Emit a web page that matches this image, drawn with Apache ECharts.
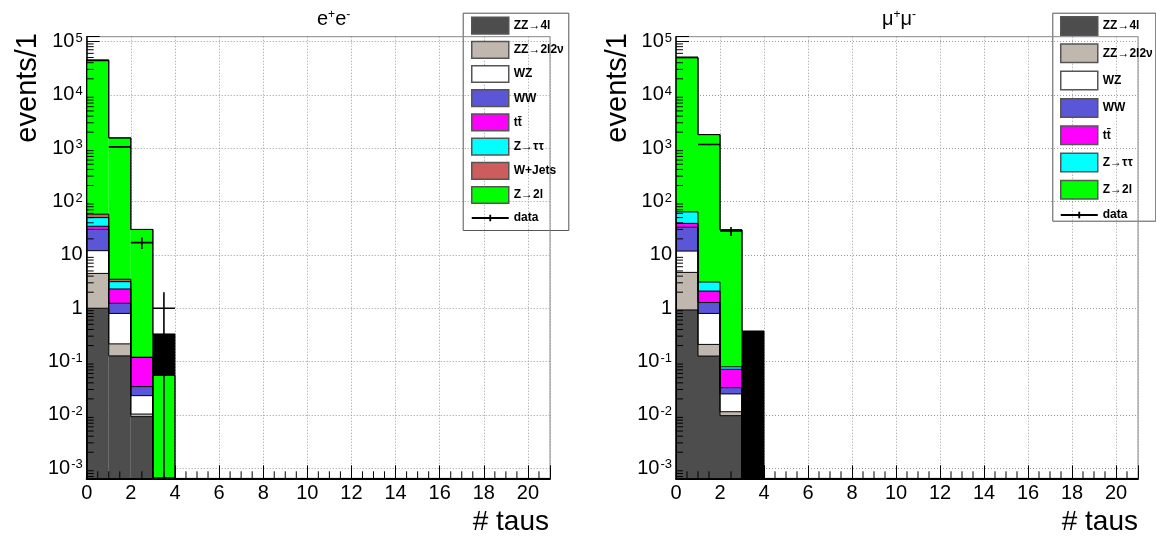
<!DOCTYPE html>
<html><head><meta charset="utf-8">
<script src="https://cdn.jsdelivr.net/npm/echarts@6/dist/echarts.min.js"></script>
<style>html,body{margin:0;padding:0;background:#fff}#c{width:1156px;height:537px}</style>
</head><body><div id="c"></div>
<script>
// ---------------- data ----------------
const binEdges = [0, 1, 2, 3, 4];
const xTickLabels = ['0','2','4','6','8','10','12','14','16','18','20'];
const compNames = ['ZZ→4l', 'ZZ→2l2ν', 'WZ', 'WW', 'tt\u0304', 'Z→ττ', 'W+Jets', 'Z→2l'];
const compColors = ['#4d4d4d', '#c0b8ae', '#ffffff', '#5b55d8', '#ff00ff', '#00ffff', '#cd5c5c', '#00ff00'];

// e+e- channel (per-bin contributions, bins 0-1,1-2,2-3,3-4)
const ee_ZZ4l    = [1.0, 0.128, 0.0093, 0];
const ee_ZZ2l2v  = [3.5, 0.087, 0.0011, 0];
const ee_WZ      = [7.5, 0.585, 0.0126, 0];
const ee_WW      = [18, 0.44, 0.011, 0];
const ee_tt      = [4.4, 1.06, 0.086, 0];
const ee_Ztautau = [15.6, 0.85, 0, 0];
const ee_WJets   = [8, 0.35, 0, 0];
const ee_Z2l     = [44642, 1556.5, 29.88, 0.055];
const ee_other   = [0, 0, 0, 0.275];
const ee_data    = [44000, 1060, 17, 1];
const ee_dataErr = [210, 33, 4.1, 1];

// mu+mu- channel
const mm_ZZ4l    = [0.93, 0.127, 0.0097, 0];
const mm_ZZ2l2v  = [3.77, 0.083, 0.0018, 0];
const mm_WZ      = [7.1, 0.59, 0.0133, 0];
const mm_WW      = [21.2, 0.48, 0.0077, 0];
const mm_tt      = [6, 0.82, 0.0395, 0];
const mm_Ztautau = [25, 1.0, 0.008, 0];
const mm_Z2l     = [49936, 1796.9, 29.42, 0];
const mm_other   = [0, 0, 0, 0.375];
const mm_data    = [50500, 1170, 28, null];
const mm_dataErr = [225, 34, 5.3, null];

const yMin = 6.5e-4, yMax = 1.23e5;
const FONT = 'Liberation Sans, Arial, Helvetica, sans-serif';

// ---------------- helpers ----------------
function histSeries(name, color, base, top, gi) {
  const last = binEdges.length - 2;
  return {
    type: 'custom', name: name, xAxisIndex: gi, yAxisIndex: gi, coordinateSystem: 'cartesian2d',
    clip: true, z: 2, itemStyle: { color: color },
    data: base.map((b, i) => [(binEdges[i] + binEdges[i + 1]) / 2, Math.max(top[i], yMin), i]),
    encode: { x: 0, y: 1 },
    renderItem: function (params, api) {
      const i = api.value(2);
      const lo = Math.max(base[i], yMin), hi = Math.max(top[i], yMin);
      const prev = i === 0 ? yMin : Math.max(top[i - 1], yMin);
      const a = api.coord([binEdges[i], hi]);
      const b = api.coord([binEdges[i + 1], lo]);
      const c = api.coord([binEdges[i], prev]);
      const ch = [];
      if (hi > lo * 1.000001) ch.push({ type: 'rect', z2: 1,
        shape: { x: a[0], y: a[1], width: b[0] - a[0], height: b[1] - a[1] }, style: { fill: color } });
      const ls = { stroke: '#000', lineWidth: 1 };
      ch.push({ type: 'line', z2: 10, shape: { x1: a[0], y1: c[1], x2: a[0], y2: a[1] }, style: ls });
      ch.push({ type: 'line', z2: 10, shape: { x1: a[0], y1: a[1], x2: b[0], y2: a[1] }, style: ls });
      if (i === last) {
        const d = api.coord([binEdges[i + 1], yMin]);
        ch.push({ type: 'line', z2: 10, shape: { x1: b[0], y1: a[1], x2: b[0], y2: d[1] }, style: ls });
      }
      return { type: 'group', children: ch };
    }
  };
}

function stackSeries(comps, colors, names, gi) {
  const out = [];
  let base = comps[0].map(() => 0);
  comps.forEach((c, k) => {
    const top = base.map((b, i) => b + c[i]);
    out.push(histSeries(names[k], colors[k], base.slice(), top, gi));
    base = top;
  });
  return out;
}

function dataSeries(vals, errs, gi) {
  return {
    type: 'custom', name: 'data', xAxisIndex: gi, yAxisIndex: gi, coordinateSystem: 'cartesian2d',
    clip: true, z: 6, itemStyle: { color: '#000' },
    data: vals.map((v, i) => v == null ? null : [(binEdges[i] + binEdges[i + 1]) / 2, v, i, errs[i]]).filter(Boolean),
    encode: { x: 0, y: 1 },
    renderItem: function (params, api) {
      const xc = api.value(0), v = api.value(1), i = api.value(2), e = api.value(3);
      const l = api.coord([binEdges[i], v]), r = api.coord([binEdges[i + 1], v]);
      const t = api.coord([xc, v + e]), b = api.coord([xc, Math.max(v - e, yMin)]);
      const ls = { stroke: '#000', lineWidth: 1.6 };
      return { type: 'group', children: [
        { type: 'line', shape: { x1: l[0], y1: l[1], x2: r[0], y2: r[1] }, style: ls },
        { type: 'line', shape: { x1: t[0], y1: t[1], x2: b[0], y2: b[1] }, style: ls }
      ] };
    }
  };
}

// minor ticks (axis decoration)
const yMinorVals = [];
for (let n = -4; n <= 5; n++) for (let m = 2; m <= 9; m++) { const v = m * Math.pow(10, n); if (v > yMin && v < yMax) yMinorVals.push(v); }
const xMinorVals = [];
for (let k = 1; k <= 42; k++) { const v = k * 0.5; if (v < 21 && v % 2 !== 0) xMinorVals.push(v); }

function minorTickSeries(gi) {
  return [{
    type: 'custom', xAxisIndex: gi, yAxisIndex: gi, coordinateSystem: 'cartesian2d', z: 8, silent: true,
    data: yMinorVals.map(v => [0, v]),
    renderItem: function (p, api) {
      const q = api.coord([0, api.value(1)]);
      return { type: 'line', shape: { x1: q[0], y1: q[1], x2: q[0] + 7, y2: q[1] }, style: { stroke: '#000', lineWidth: 1 } };
    }
  }, {
    type: 'custom', xAxisIndex: gi, yAxisIndex: gi, coordinateSystem: 'cartesian2d', z: 8, silent: true,
    data: xMinorVals.map(v => [v, yMin]),
    renderItem: function (p, api) {
      const q = api.coord([api.value(0), yMin]);
      return { type: 'line', shape: { x1: q[0], y1: q[1], x2: q[0], y2: q[1] - 7 }, style: { stroke: '#000', lineWidth: 1 } };
    }
  }];
}

const supRich = {
  b: { fontSize: 20, fontFamily: FONT, color: '#000' },
  s: { fontSize: 13, fontFamily: FONT, color: '#000', verticalAlign: 'top', padding: [0, 0, 6, 1] }
};
function yLabel(v) {
  const lg = Math.log10(v), e = Math.round(lg);
  if (Math.abs(lg - e) > 1e-6) return '';
  if (e === 0) return '{b|1}';
  if (e === 1) return '{b|10}';
  return '{b|10}{s|' + e + '}';
}

function xAxis(gi) {
  return {
    gridIndex: gi, type: 'value', min: 0, max: 21, interval: 2,
    axisLine: { show: true, onZero: false, lineStyle: { color: '#000', width: 2 } },
    axisTick: { show: true, inside: true, length: 13, lineStyle: { color: '#000', width: 1 } },
    axisLabel: { fontSize: 20, color: '#000', fontFamily: FONT, margin: 5,
      formatter: v => (xTickLabels.indexOf(String(v)) >= 0 ? String(v) : '') },
    splitLine: { show: true, lineStyle: { color: '#999', type: [1, 2], width: 1 } }
  };
}
function yAxis(gi) {
  return {
    gridIndex: gi, type: 'log', logBase: 10, min: yMin, max: yMax, splitNumber: 9,
    axisLine: { show: true, lineStyle: { color: '#000', width: 1.5 } },
    axisTick: { show: true, inside: true, length: 13, lineStyle: { color: '#000', width: 1 } },
    axisLabel: { formatter: yLabel, rich: supRich, margin: 4, color: '#000', showMinLabel: true, showMaxLabel: true },
    splitLine: { show: true, lineStyle: { color: '#999', type: [1, 2], width: 1 } }
  };
}

function legendCfg(names, colors, left, top, itemH, gap, textW) {
  const items = names.map((n, k) => ({ name: n, icon: 'rect',
    itemStyle: { color: colors[k], borderColor: '#555', borderWidth: 1.5 } }));
  items.push({ name: 'data', icon: 'path://M0,0M0,7.5H40V9.5H0ZM19,5H21V12H19ZM40,17',
    itemStyle: { color: '#000', borderWidth: 0 } });
  return {
    orient: 'vertical', left: left, top: top, itemWidth: 37, itemHeight: itemH, itemGap: gap,
    padding: 0, selectedMode: false, data: items,
    textStyle: { fontFamily: FONT, fontWeight: 'bold', fontSize: 12, lineHeight: 13, color: '#000', width: textW, overflow: 'truncate', ellipsis: '' }
  };
}

const eeComps = [ee_ZZ4l, ee_ZZ2l2v, ee_WZ, ee_WW, ee_tt, ee_Ztautau, ee_WJets, ee_Z2l, ee_other];
const eeNames = compNames.concat(['other']);
const eeColors = compColors.concat(['#000000']);
const mmComps = [mm_ZZ4l, mm_ZZ2l2v, mm_WZ, mm_WW, mm_tt, mm_Ztautau, mm_Z2l, mm_other];
const mmNames = compNames.filter(n => n !== 'W+Jets').concat(['other']);
const mmColors = compColors.filter((c, k) => compNames[k] !== 'W+Jets').concat(['#000000']);

const series = []
  .concat(stackSeries(eeComps, eeColors, eeNames, 0))
  .concat([dataSeries(ee_data, ee_dataErr, 0)])
  .concat(minorTickSeries(0))
  .concat(stackSeries(mmComps, mmColors, mmNames, 1))
  .concat([dataSeries(mm_data, mm_dataErr, 1)])
  .concat(minorTickSeries(1));

const titleRich = {
  b: { fontSize: 20, fontFamily: FONT, color: '#000' },
  s: { fontSize: 12, fontFamily: FONT, color: '#000', verticalAlign: 'top' }
};

const option = {
  animation: false,
  backgroundColor: '#fff',
  grid: [
    { left: 86.7, top: 36.7, width: 463.3, height: 441.6, show: true, borderColor: '#888', borderWidth: 1, backgroundColor: 'transparent' },
    { left: 676, top: 36.7, width: 462, height: 441.6, show: true, borderColor: '#888', borderWidth: 1, backgroundColor: 'transparent' }
  ],
  xAxis: [xAxis(0), xAxis(1)],
  yAxis: [yAxis(0), yAxis(1)],
  legend: [
    legendCfg(compNames, compColors, 471, 16.5, 16.7, 6, 55),
    legendCfg(compNames.filter(n => n !== 'W+Jets'), compColors.filter((c, k) => compNames[k] !== 'W+Jets'), 1060, 16, 18.5, 7.3, 53)
  ],
  graphic: [
    { type: 'rect', left: 462.7, top: 12.7, z: -1, shape: { width: 105.6, height: 217.3 }, style: { fill: '#fff', stroke: '#555', lineWidth: 1 } },
    { type: 'rect', left: 1052.3, top: 12.7, z: -1, shape: { width: 103, height: 208 }, style: { fill: '#fff', stroke: '#555', lineWidth: 1 } },
    { type: 'text', x: 317, y: 9, style: { text: '{b|e}{s|+}{b|e}{s|-}', rich: titleRich } },
    { type: 'text', x: 882, y: 9, style: { text: '{b|μ}{s|+}{b|μ}{s|-}', rich: titleRich } },
    { type: 'text', x: 28, y: 33, rotation: Math.PI / 2, style: { text: 'events/1', font: '29px ' + FONT, fill: '#000', textAlign: 'right', textVerticalAlign: 'middle' } },
    { type: 'text', x: 618, y: 33, rotation: Math.PI / 2, style: { text: 'events/1', font: '29px ' + FONT, fill: '#000', textAlign: 'right', textVerticalAlign: 'middle' } },
    { type: 'text', x: 549, y: 522, style: { text: '# taus', font: '28px ' + FONT, fill: '#000', textAlign: 'right', textVerticalAlign: 'middle' } },
    { type: 'text', x: 1138, y: 522, style: { text: '# taus', font: '28px ' + FONT, fill: '#000', textAlign: 'right', textVerticalAlign: 'middle' } }
  ],
  series: series
};

const chart = echarts.init(document.getElementById('c'), null, { renderer: 'canvas' });
chart.setOption(option);
</script>
</body></html>
